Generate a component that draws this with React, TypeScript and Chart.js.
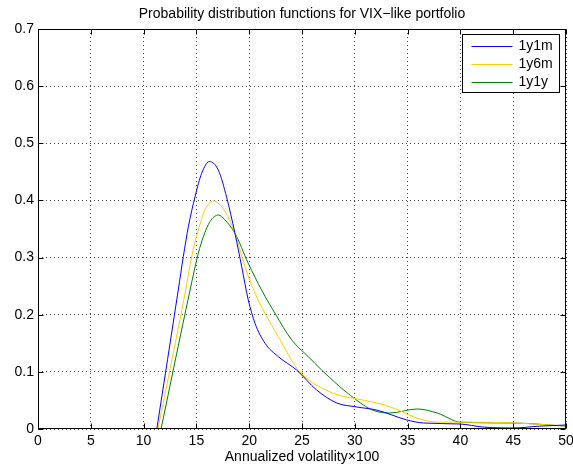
import React, { useEffect, useRef } from 'react';
import { Chart, registerables } from 'chart.js';

Chart.register(...registerables);

const FONT = '"Liberation Sans", Arial, Helvetica, sans-serif';
const FONT_SIZE = 14;

const titleText = 'Probability distribution functions for VIX\u2212like portfolio';
const xAxisTitle = 'Annualized volatility\u00d7100';

const seriesNames = ['1y1m', '1y6m', '1y1y'];
const seriesColors = ['#0000ff', '#ffcc00', '#008000'];

const xTicks = [0, 5, 10, 15, 20, 25, 30, 35, 40, 45, 50];
const xTickLabels = ['0', '5', '10', '15', '20', '25', '30', '35', '40', '45', '50'];
const yTicks = [0, 0.1, 0.2, 0.3, 0.4, 0.5, 0.6, 0.7];
const yTickLabels = ['0', '0.1', '0.2', '0.3', '0.4', '0.5', '0.6', '0.7'];

const vol1y1m = [11.25, 13.28, 13.76, 14.24, 14.87, 15.5, 16.23, 17.08, 17.87, 18.65, 19.29, 19.91, 20.55, 21.5, 22.76, 24.5, 26.4, 28.3, 30.2, 32.1, 34.9, 36.5, 40, 42.1, 45, 47.5, 50];
const pdf1y1m = [0, 0.243, 0.3015, 0.354, 0.4066, 0.4475, 0.468, 0.453, 0.405, 0.3425, 0.284, 0.226, 0.185, 0.15, 0.1265, 0.103, 0.068, 0.0455, 0.0385, 0.033, 0.016, 0.0105, 0.0087, 0.0035, 0.0018, 0.005, 0.007];

const vol1y6m = [11.36, 13.98, 14.55, 15.18, 15.8, 16.6, 17.7, 18.65, 19.6, 20.55, 21.5, 22.76, 24.65, 27.9, 29.8, 32.1, 33.6, 35.9, 37.8, 40, 45.3, 50];
const pdf1y6m = [0, 0.243, 0.3015, 0.348, 0.383, 0.399, 0.381, 0.3425, 0.284, 0.2375, 0.2025, 0.1615, 0.103, 0.063, 0.054, 0.0455, 0.037, 0.019, 0.012, 0.012, 0.0105, 0.005];

const vol1y1y = [11.65, 14.4, 15.18, 15.66, 16.29, 17.08, 17.7, 18.65, 19.91, 21.18, 22.44, 24.02, 25.6, 26.87, 29.3, 31.7, 33.3, 35.9, 37.8, 40, 45, 50];
const pdf1y1y = [0, 0.243, 0.3075, 0.3365, 0.363, 0.3745, 0.366, 0.3425, 0.29, 0.243, 0.2025, 0.156, 0.1265, 0.103, 0.063, 0.033, 0.028, 0.035, 0.028, 0.012, 0.0105, 0.005];

const seriesX = [vol1y1m, vol1y6m, vol1y1y];
const seriesY = [pdf1y1m, pdf1y6m, pdf1y1y];

const framePlugin = {
  id: 'matlabFrame',
  afterDatasetsDraw(chart: any) {
    const { ctx, chartArea: a, scales } = chart;
    const L = Math.round(a.left) + 0.5;
    const R = Math.round(a.right) - 0.5;
    const T = Math.round(a.top) + 0.5;
    const B = Math.round(a.bottom) - 0.5;
    ctx.save();
    ctx.strokeStyle = '#000';
    ctx.lineWidth = 1;
    ctx.setLineDash([]);
    ctx.strokeRect(L, T, R - L, B - T);
    const tl = 5;
    ctx.beginPath();
    xTicks.forEach((v) => {
      const px = Math.round(scales.x.getPixelForValue(v)) + 0.5;
      ctx.moveTo(px, B);
      ctx.lineTo(px, B - tl);
      ctx.moveTo(px, T);
      ctx.lineTo(px, T + tl);
    });
    yTicks.forEach((v) => {
      const py = Math.round(scales.y.getPixelForValue(v)) + 0.5;
      ctx.moveTo(L, py);
      ctx.lineTo(L + tl, py);
      ctx.moveTo(R, py);
      ctx.lineTo(R - tl, py);
    });
    ctx.stroke();

    // title centred over the axes
    ctx.font = FONT_SIZE + 'px ' + FONT;
    ctx.fillStyle = '#000';
    ctx.textAlign = 'center';
    ctx.textBaseline = 'alphabetic';
    ctx.fillText(titleText, (a.left + a.right) / 2, 17.5);

    // legend inside the axes (north-east)
    const ds = chart.data.datasets;
    let maxW = 0;
    ds.forEach((d: any) => {
      maxW = Math.max(maxW, ctx.measureText(d.label).width);
    });
    const boxW = Math.round(9 + 41 + 6 + maxW + 7);
    const rowH = 18;
    const boxH = 58;
    const bx = Math.round(a.right - 7 - boxW) + 0.5;
    const by = Math.round(a.top + 5) + 0.5;
    ctx.fillStyle = '#fff';
    ctx.fillRect(bx, by, boxW, boxH);
    ctx.strokeStyle = '#000';
    ctx.strokeRect(bx, by, boxW, boxH);
    ds.forEach((d: any, i: number) => {
      const cy = Math.round(by + 11 + i * rowH) + 0.5;
      ctx.strokeStyle = d.borderColor;
      ctx.beginPath();
      ctx.moveTo(bx + 9, cy);
      ctx.lineTo(bx + 50, cy);
      ctx.stroke();
      ctx.fillStyle = '#000';
      ctx.textAlign = 'left';
      ctx.textBaseline = 'middle';
      ctx.fillText(d.label, bx + 56, cy);
    });
    ctx.restore();
  },
};

export default function App() {
  const ref = useRef<HTMLCanvasElement | null>(null);

  useEffect(() => {
    if (!ref.current) return;
    Chart.defaults.font.family = FONT;
    Chart.defaults.color = '#000';
    const datasets = seriesNames.map((name, i) => ({
      label: name,
      data: seriesX[i].map((x, j) => ({ x, y: seriesY[i][j] })),
      borderColor: seriesColors[i],
      backgroundColor: seriesColors[i],
      borderWidth: 1,
      pointRadius: 0,
      showLine: true,
      fill: false,
      cubicInterpolationMode: 'monotone' as const,
    }));
    const chart = new Chart(ref.current, {
      type: 'scatter',
      data: { datasets },
      options: {
        responsive: false,
        animation: false,
        layout: { padding: { left: 0, right: 7, top: 29, bottom: 0 } },
        plugins: {
          legend: { display: false },
          tooltip: { enabled: false },
          title: { display: false },
        },
        scales: {
          x: {
            type: 'linear',
            min: 0,
            max: 50,
            afterBuildTicks: (s: any) => {
              s.ticks = xTicks.map((v) => ({ value: v }));
            },
            afterFit: (s: any) => {
              s.height = 41;
              s.paddingLeft = 0;
              s.paddingRight = 0;
            },
            ticks: {
              color: '#000',
              font: { size: FONT_SIZE, family: FONT },
              padding: 4,
              maxRotation: 0,
              autoSkip: false,
              callback: (_v: any, i: number) => xTickLabels[i],
            },
            grid: {
              color: 'rgba(0,0,0,0.75)',
              lineWidth: 1,
              drawTicks: false,
            },
            border: { display: false, dash: [1, 3] },
            title: {
              display: true,
              text: xAxisTitle,
              color: '#000',
              font: { size: FONT_SIZE, family: FONT },
              padding: { top: 0, bottom: 4 },
            },
          },
          y: {
            type: 'linear',
            min: 0,
            max: 0.7,
            afterBuildTicks: (s: any) => {
              s.ticks = yTicks.map((v) => ({ value: v }));
            },
            afterFit: (s: any) => {
              s.width = 38;
              s.paddingTop = 0;
              s.paddingBottom = 0;
            },
            ticks: {
              color: '#000',
              font: { size: FONT_SIZE, family: FONT },
              padding: 4,
              autoSkip: false,
              callback: (_v: any, i: number) => yTickLabels[i],
            },
            grid: {
              color: 'rgba(0,0,0,0.75)',
              lineWidth: 1,
              drawTicks: false,
            },
            border: { display: false, dash: [1, 3] },
          },
        },
      },
      plugins: [framePlugin],
    });
    return () => chart.destroy();
  }, []);

  return (
    <div style={{ position: 'fixed', left: 0, top: 0, width: 573, height: 470, background: '#fff' }}>
      <canvas ref={ref} width={573} height={470} style={{ display: 'block' }} />
    </div>
  );
}
